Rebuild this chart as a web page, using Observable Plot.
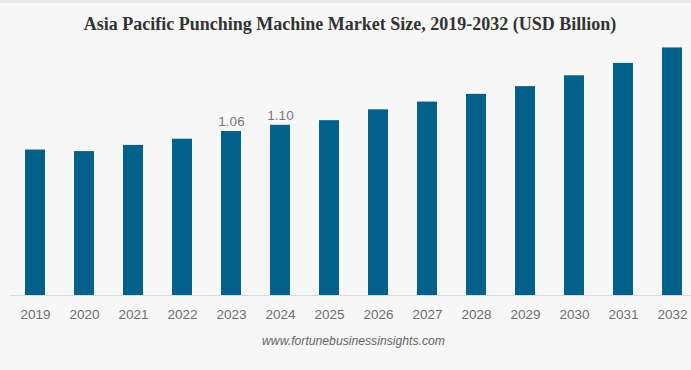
<!DOCTYPE html>
<html>
<head>
<meta charset="utf-8">
<script src="https://cdn.jsdelivr.net/npm/d3@7"></script>
<script src="https://cdn.jsdelivr.net/npm/@observablehq/plot@0.6"></script>
<style>
  html, body { margin: 0; padding: 0; background: #f7f7f7; }
  #wrap { position: relative; width: 691px; height: 370px; overflow: hidden; background: #f7f7f7; }
  #topline { position: absolute; left: 0; top: 0; width: 691px; height: 3px; background: #e9e9e9; }
  #title { position: absolute; left: 0; top: 12px; width: 700px; text-align: center;
           font-family: "Liberation Serif", "Times New Roman", serif; font-weight: bold;
           font-size: 18px; color: #333; line-height: 24px; }
  #chart { position: absolute; left: 0; top: 40px; }
  #caption { position: absolute; left: 0; top: 333px; width: 707px; text-align: center;
             font-family: "Liberation Sans", Arial, sans-serif; font-style: italic;
             font-size: 12.2px; color: #666; line-height: 16px; }
</style>
</head>
<body>
<div id="wrap">
  <div id="topline"></div>
  <div id="title">Asia Pacific Punching Machine Market Size, 2019-2032 (USD Billion)</div>
  <div id="chart"></div>
  <div id="caption">www.fortunebusinessinsights.com</div>
</div>
<script>
const years = ["2019","2020","2021","2022","2023","2024","2025","2026","2027","2028","2029","2030","2031","2032"];
const values = [0.94, 0.93, 0.97, 1.01, 1.06, 1.10, 1.13, 1.20, 1.25, 1.30, 1.35, 1.42, 1.50, 1.60];
const labeledYears = ["2023", "2024"];

const data = years.map((y, i) => ({year: y, value: values[i]}));
const labeled = data.filter(d => labeledYears.includes(d.year));

const plot = Plot.plot({
  width: 691,
  height: 290,
  marginLeft: 10,
  marginRight: 0,
  marginTop: 0,
  marginBottom: 35,
  style: {background: "transparent", fontFamily: "'Liberation Sans', Arial, sans-serif"},
  x: {type: "band", domain: years, range: [24.7, 682.6], paddingInner: 0.6, paddingOuter: 0, label: null},
  y: {domain: [0, 1.648], axis: null},
  marks: [
    Plot.barY(data, {x: "year", y: "value", fill: "#02618a"}),
    Plot.frame({anchor: "bottom", stroke: "#dadada"}),
    Plot.text(labeled, {x: "year", y: "value", text: d => d.value.toFixed(2), dy: -10,
      fill: "#777", fontSize: 13.5}),
    Plot.axisX({tickSize: 0, tickPadding: 14, fontSize: 13.5, color: "#6e6e6e", label: null})
  ]
});
document.getElementById("chart").appendChild(plot);
</script>
</body>
</html>
